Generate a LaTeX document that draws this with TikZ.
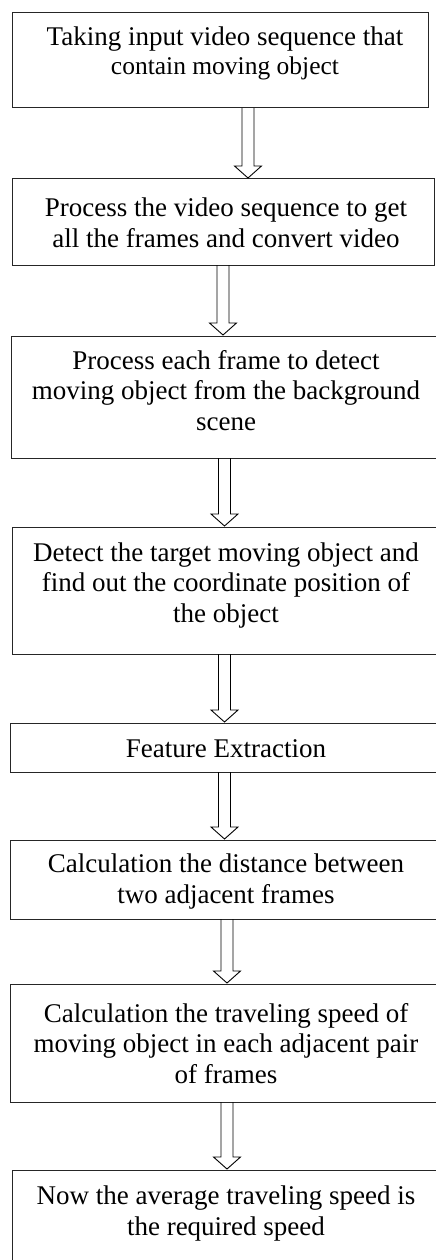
\documentclass[tikz,border=0pt]{standalone}
\usepackage{fontspec}
\setmainfont{Liberation Serif}
\usetikzlibrary{calc}

% hollow block arrow pointing down, from the bottom of #1 to the top of #2, centred on x = #3
\newcommand\hollowdown[3]{%
  \draw[blockarrow] let \p1=(#1.south), \p2=(#2.north) in
    ({#3pt-6pt},\y1) -- ({#3pt-6pt},\y2+13pt) -- ({#3pt-13.5pt},\y2+13pt)
    -- ({#3pt},\y2+1pt) -- ({#3pt+13.5pt},\y2+13pt) -- ({#3pt+6pt},\y2+13pt)
    -- ({#3pt+6pt},\y1);}

\begin{document}
\begin{tikzpicture}[x=1pt,y=-1pt,
  stepbox/.style={draw=black!85, line width=1pt, inner sep=0pt, outer sep=0pt},
  txt/.style={inner sep=0pt, align=center, anchor=base,
    font=\fontsize{27}{30.5}\selectfont},
  blockarrow/.style={draw=black, line width=0.9pt, line join=miter}]

\useasboundingbox (0,0) rectangle (436,1260);
\clip (0,0) rectangle (436,1260);

% process boxes
\node[stepbox, minimum width=416pt, minimum height=95pt]  (b1) at (220,60.5)   {};
\node[stepbox, minimum width=422pt, minimum height=86pt]  (b2) at (223,222)    {};
\node[stepbox, minimum width=429pt, minimum height=122pt] (b3) at (225.5,397)  {};
\node[stepbox, minimum width=428pt, minimum height=127pt] (b4) at (226,590.5)  {};
\node[stepbox, minimum width=430pt, minimum height=49pt]  (b5) at (225,747.5)  {};
\node[stepbox, minimum width=430pt, minimum height=79pt]  (b6) at (225,879.5)  {};
\node[stepbox, minimum width=430pt, minimum height=118pt] (b7) at (225,1043)   {};
\node[stepbox, minimum width=428pt, minimum height=98pt]  (b8) at (226,1219)   {};

% box texts (anchored at the baseline of the last line)
\node[txt] (t1) at (225,75) {Taking input video sequence that\\[-1.5pt]
  {\fontsize{25.5}{29}\selectfont contain moving object}};
\node[txt] (t2) at (226,247) {Process the video sequence to get\\all the frames and convert video};
\node[txt] (t3) at (226,430) {Process each frame to detect\\moving object from the background\\scene};
\node[txt] (t4) at (226,622) {Detect the target moving object and\\find out the coordinate position of\\the object};
\node[txt] (t5) at (226,757) {Feature Extraction};
\node[txt] (t6) at (226,903) {Calculation the distance between\\two adjacent frames};
\node[txt] (t7) at (226,1083) {Calculation the traveling speed of\\moving object in each adjacent pair\\of frames};
\node[txt] (t8) at (226,1235) {Now the average traveling speed is\\the required speed};

% connectors
\hollowdown{b1}{b2}{248}
\hollowdown{b2}{b3}{223}
\hollowdown{b3}{b4}{224.5}
\hollowdown{b4}{b5}{224.5}
\hollowdown{b5}{b6}{224.5}
\hollowdown{b6}{b7}{227}
\hollowdown{b7}{b8}{227}
\end{tikzpicture}
\end{document}
